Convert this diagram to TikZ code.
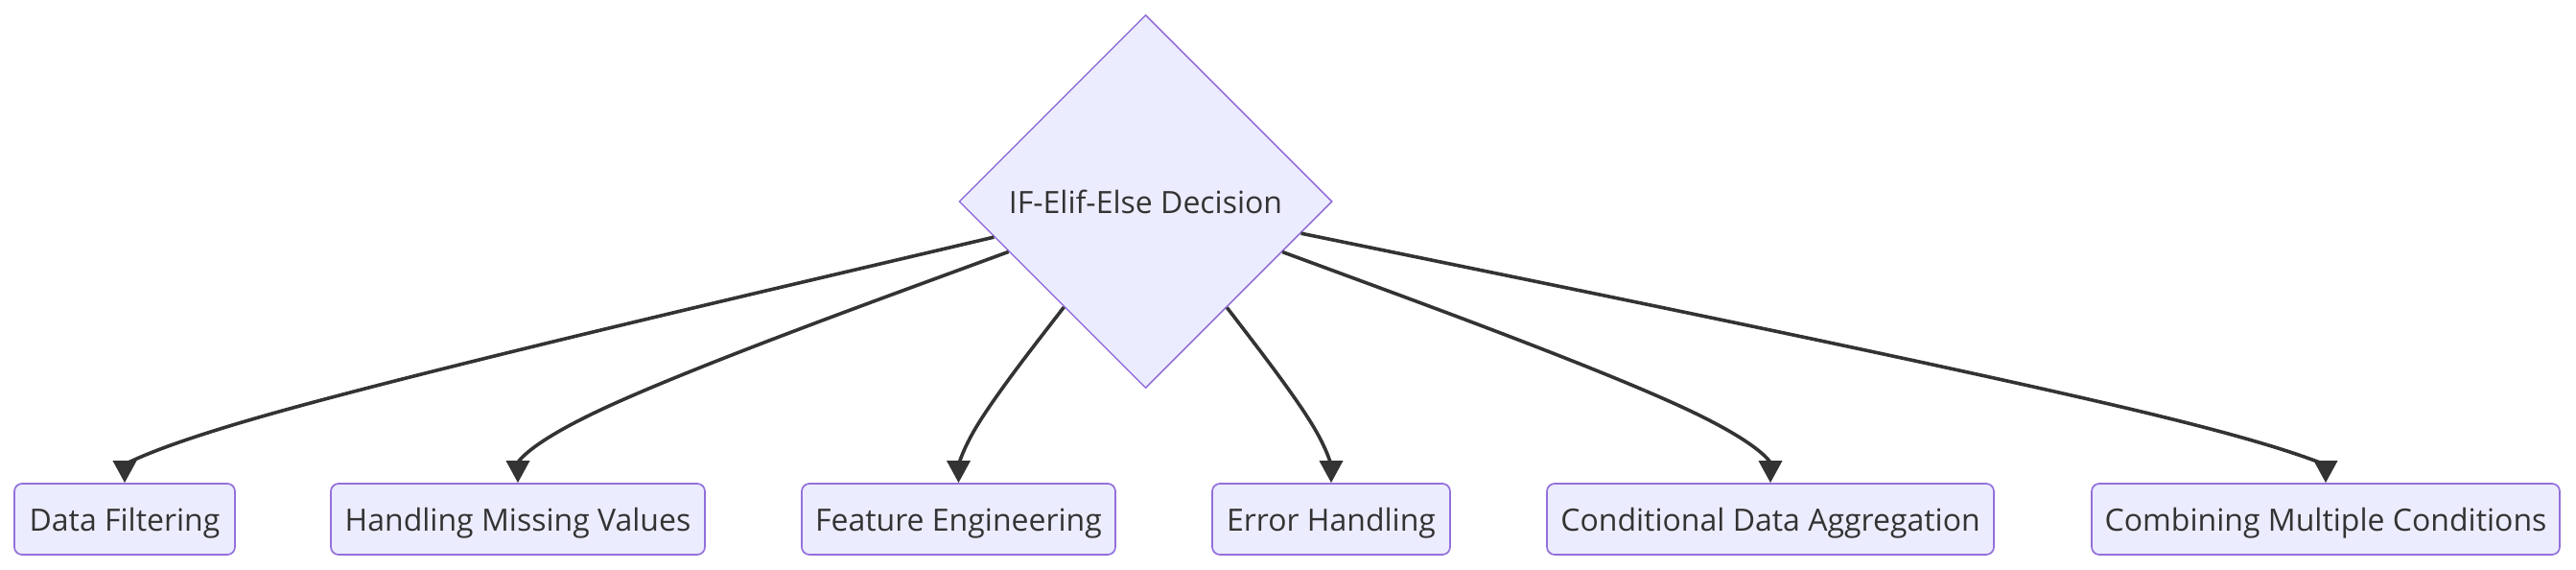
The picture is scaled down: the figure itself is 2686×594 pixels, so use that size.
\documentclass[tikz,border=0pt]{standalone}
\usepackage{fontspec}
\setmainfont{Open Sans}
\usetikzlibrary{shapes.geometric,arrows.meta,calc}
\definecolor{nodefill}{HTML}{ECECFF}
\definecolor{nodeline}{HTML}{9370DB}
\definecolor{edgecol}{HTML}{333333}
\definecolor{txtcol}{HTML}{333333}
\begin{document}
\begin{tikzpicture}[x=1pt,y=-1pt,
  box/.style={draw=nodeline, fill=nodefill, line width=1.7pt, rounded corners=8pt,
    minimum height=74pt, inner sep=0pt, text height=30pt, text depth=5.3pt,
    text=txtcol, font=\fontsize{32}{38}\selectfont},
  decision/.style={diamond, shape aspect=1, draw=nodeline, fill=nodefill, line width=1.5pt,
    minimum width=389pt, minimum height=389pt, inner sep=0pt, text=txtcol,
    font=\fontsize{32}{38}\selectfont},
  flow/.style={draw=edgecol, line width=3.6pt, -{Triangle[length=23pt,width=24pt]}}
]
\useasboundingbox (0,0) rectangle (2686,594);

\node[decision] (dia) at (1194.5,210) {IF-Elif-Else Decision};

\node[box, minimum width=230pt] (b1) at (130,541) {Data Filtering};
\node[box, minimum width=390pt] (b2) at (540,541) {Handling Missing Values};
\node[box, minimum width=327pt] (b3) at (999.5,541) {Feature Engineering};
\node[box, minimum width=248pt] (b4) at (1388,541) {Error Handling};
\node[box, minimum width=466pt] (b5) at (1846,541) {Conditional Data Aggregation};
\node[box, minimum width=488pt] (b6) at (2425,541) {Combining Multiple Conditions};

\coordinate (q1) at (130,460);
\coordinate (q2) at (540,450);
\coordinate (q3) at (999.5,462);
\coordinate (q4) at (1388,462);
\coordinate (q5) at (1846,450);
\coordinate (q6) at (2425,462);

\foreach \i in {1,...,6}{
  \path (dia) -- (q\i) coordinate[pos=0] (s\i);
  \draw[flow] (s\i) -- ($(s\i)!0.16667!(q\i)$)
    .. controls ($(s\i)!0.33333!(q\i)$) and ($(s\i)!0.66667!(q\i)$)
    .. ($0.16667*(s\i)+0.66667*(q\i)+0.16667*(b\i.north)$)
    .. controls ($(q\i)!0.33333!(b\i.north)$) and ($(q\i)!0.66667!(b\i.north)$)
    .. (b\i.north);
}
\end{tikzpicture}
\end{document}
